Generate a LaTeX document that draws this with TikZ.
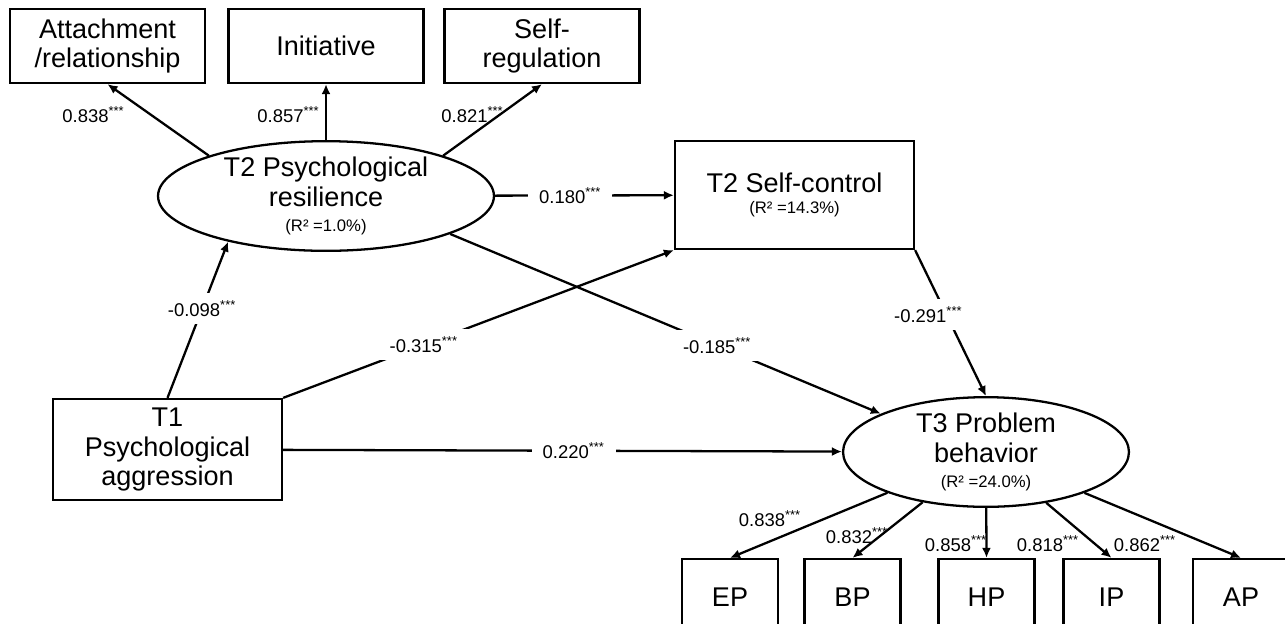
\documentclass[tikz,border=0pt]{standalone}
\usepackage{fontspec}
\setmainfont{Liberation Sans}
\usetikzlibrary{shapes.geometric,arrows.meta}
\newcommand\bigtxt{\fontsize{15.4}{17}\selectfont}
\newcommand\coeftxt{\fontsize{10.5}{12}\selectfont}
\newcommand\rsqtxt{\fontsize{9.5}{10}\selectfont}
\newcommand\sig{\textsuperscript{***}}
\begin{document}
\begin{tikzpicture}[x=0.02cm, y=-0.02cm, line width=1.3pt,
    obs/.style={draw, rectangle, inner sep=0pt, align=center, font=\bigtxt},
    latent/.style={draw, ellipse, inner sep=0pt, align=center, font=\bigtxt, minimum height=2.16cm},
    arr/.style={-{Latex[length=0.2cm,width=0.18cm]}},
    coef/.style={font=\coeftxt, inner sep=1pt},
    cut/.style={coef, fill=white, inner xsep=0.22cm, inner ysep=0.15cm}]
    \useasboundingbox (0,0) rectangle (1285,623);

    \node[obs, minimum width=3.9cm, minimum height=1.48cm] (att) at (107.5,46) {Attachment\\/relationship};
    \node[obs, minimum width=3.9cm, minimum height=1.48cm] (ini) at (326,46) {Initiative};
    \node[obs, minimum width=3.9cm, minimum height=1.48cm] (sreg) at (542,46) {Self-\\regulation};

    \node[latent, minimum width=6.72cm] (t2) at (326,196) {T2 Psychological\\resilience\\[-3pt]{\rsqtxt (R² =1.0\%)}};
    \node[obs, minimum width=4.78cm, minimum height=2.16cm] (t2sc) at (794.5,195) {T2 Self-control\\[-5pt]{\rsqtxt (R² =14.3\%)}};
    \node[obs, minimum width=4.58cm, minimum height=2.02cm] (t1) at (167.5,449.5) {T1\\Psychological\\aggression};
    \node[latent, minimum width=5.72cm] (t3) at (986,452) {T3 Problem\\behavior\\[-3pt]{\rsqtxt (R² =24.0\%)}};

    \foreach \name/\x in {EP/730, BP/852.5, HP/986.5, IP/1111.5, AP/1241}
        \node[obs, minimum width=1.92cm, minimum height=1.52cm] (\name) at (\x,597) {\name};

    \draw[arr] (t2.161) -- (att.south);
    \draw[arr] (t2) -- (ini);
    \draw[arr] (t2.19) -- (sreg.south);
    \node[coef, anchor=base] (c-att) at (93.5,122) {0.838\sig};
    \node[coef, anchor=base] (c-ini) at (288.5,122) {0.857\sig};
    \node[coef, anchor=base] (c-sreg) at (472.5,122) {0.821\sig};

    \draw[arr] (t2) -- node[cut, pos=.42] (c-rs) {0.180\sig} (t2sc);
    \draw[arr] (t1.north) -- node[cut, pos=.57] (c-ar) {-0.098\sig} (t2.205);
    \draw[arr] (t1.north east) -- node[cut, pos=.36] (c-as) {-0.315\sig} (t2sc.south west);
    \draw[arr] (t1) -- node[cut, pos=.52] (c-ap) {0.220\sig} (t3);
    \draw[arr] (t2.343) -- node[cut, pos=.62] (c-rp) {-0.185\sig} (t3.160);
    \draw[arr] (t2sc.south east) -- node[cut, pos=.44, xshift=-0.36cm] (c-sp) {-0.291\sig} (t3.north);

    \foreach \name in {EP, BP, HP, IP, AP}
        \draw[arr] (t3) -- (\name.north);
    \node[coef, anchor=base] (c-ep) at (770,526) {0.838\sig};
    \node[coef, anchor=base] (c-bp) at (857,543) {0.832\sig};
    \node[coef, anchor=base] (c-hp) at (956,551) {0.858\sig};
    \node[coef, anchor=base] (c-ip) at (1048,551) {0.818\sig};
    \node[coef, anchor=base] (c-ap2) at (1145,551) {0.862\sig};
\end{tikzpicture}
\end{document}
